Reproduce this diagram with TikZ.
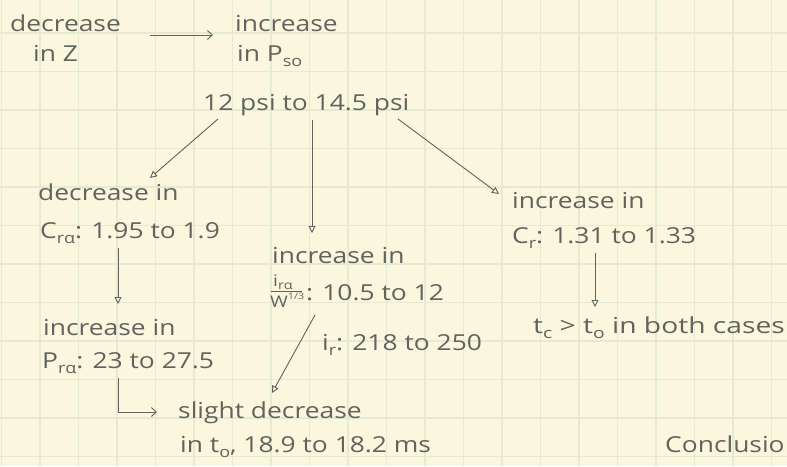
\documentclass[tikz,border=0pt]{standalone}
\usepackage{fontspec}
\setmainfont{Open Sans}[FakeStretch=1.2]
\usetikzlibrary{arrows.meta}
\definecolor{paper}{RGB}{250,247,222}
\definecolor{gridc}{RGB}{229,235,210}
\definecolor{pencil}{RGB}{98,98,94}
\newcommand{\lsub}[1]{\raisebox{-0.25em}{\fontsize{15}{15}\selectfont #1}}
\newcommand{\lsup}[1]{\raisebox{0.5em}{\fontsize{9}{9}\selectfont #1}}
\newcommand{\fsub}[1]{\raisebox{-0.2em}{\fontsize{12}{12}\selectfont #1}}
\tikzset{
  txt/.style={anchor=base west, inner sep=0pt, text=pencil, font=\fontsize{22}{26}\selectfont},
  small/.style={txt, font=\fontsize{16}{18}\selectfont},
  conn/.style={draw=pencil, line width=0.9pt},
  tri/.style={conn, -{Triangle[open, length=7pt, width=7pt]}},
  barb/.style={conn, -{Straight Barb[length=5pt, width=9pt]}}
}
\begin{document}
\begin{tikzpicture}[x=1pt, y=-1pt]
\useasboundingbox (0,0) rectangle (787,466);
\fill[paper] (0,0) rectangle (787,466);
\foreach \k in {0,...,20} \draw[gridc, line width=1.2pt] ({1.5+38.5*\k},0) -- ({1.5+38.5*\k},466);
\foreach \k in {-1,...,11} \draw[gridc, line width=1.2pt] (0,{33+38.5*\k}) -- (787,{33+38.5*\k});

% texts
\node[txt] (n1a) at (10,31) {decrease};
\node[txt] (n1b) at (33,61) {in Z};
\node[txt] (n2a) at (235,31) {increase};
\node[txt] (n2b) at (237,61) {in P\lsub{so}};
\node[txt] (n3) at (203,110) {12 psi to 14.5 psi};
\node[txt] (n4a) at (38,200) {decrease in};
\node[txt] (n4b) at (40,238) {C\lsub{rα}: 1.95 to 1.9};
\node[txt] (n5a) at (272,263) {increase in};
\node[small] (n5n) at (273,286) {i\fsub{rα}};
\node[small] (n5d) at (270,307) {W\lsup{1/3}};
\draw[conn] (271,291) -- (302,291);
\node[txt] (n5b) at (306,300) {: 10.5 to 12};
\node[txt] (n6a) at (512,208) {increase in};
\node[txt] (n6b) at (512,243) {C\lsub{r}: 1.31 to 1.33};
\node[txt, xscale=1.07] (n7) at (533,333) {t\lsub{c} > t\lsub{o} in both cases};
\node[txt] (n8a) at (43,335) {increase in};
\node[txt] (n8b) at (42,368) {P\lsub{rα}: 23 to 27.5};
\node[txt] (n9) at (322,350) {i\lsub{r}: 218 to 250};
\node[txt] (n10a) at (178,418) {slight decrease};
\node[txt] (n10b) at (180,452) {in t\lsub{o}, 18.9 to 18.2 ms};
\node[txt] (n11) at (665,452) {Conclusio};

% connector end points
\coordinate (a1s) at (150,35);
\coordinate (a1e) at (213,35);
\coordinate (a2s) at (218,119);
\coordinate (a2e) at (150,178);
\coordinate (a3s) at (312,120);
\coordinate (a3e) at (312,233);
\coordinate (a4s) at (398,119);
\coordinate (a4e) at (499,194);
\coordinate (a5s) at (118,248);
\coordinate (a5e) at (118,304);
\coordinate (a6s) at (595,253);
\coordinate (a6e) at (595,307);
\coordinate (a7s) at (315,315);
\coordinate (a7e) at (272,393);
\coordinate (a8s) at (118,378);
\coordinate (a8e) at (157,412);

\draw[barb] (a1s) -- (a1e);
\draw[tri] (a2s) -- (a2e);
\draw[tri] (a3s) -- (a3e);
\draw[tri] (a4s) -- (a4e);
\draw[tri] (a5s) -- (a5e);
\draw[tri] (a6s) -- (a6e);
\draw[tri] (a7s) -- (a7e);
\draw[barb] (a8s) |- (a8e);
\end{tikzpicture}
\end{document}
